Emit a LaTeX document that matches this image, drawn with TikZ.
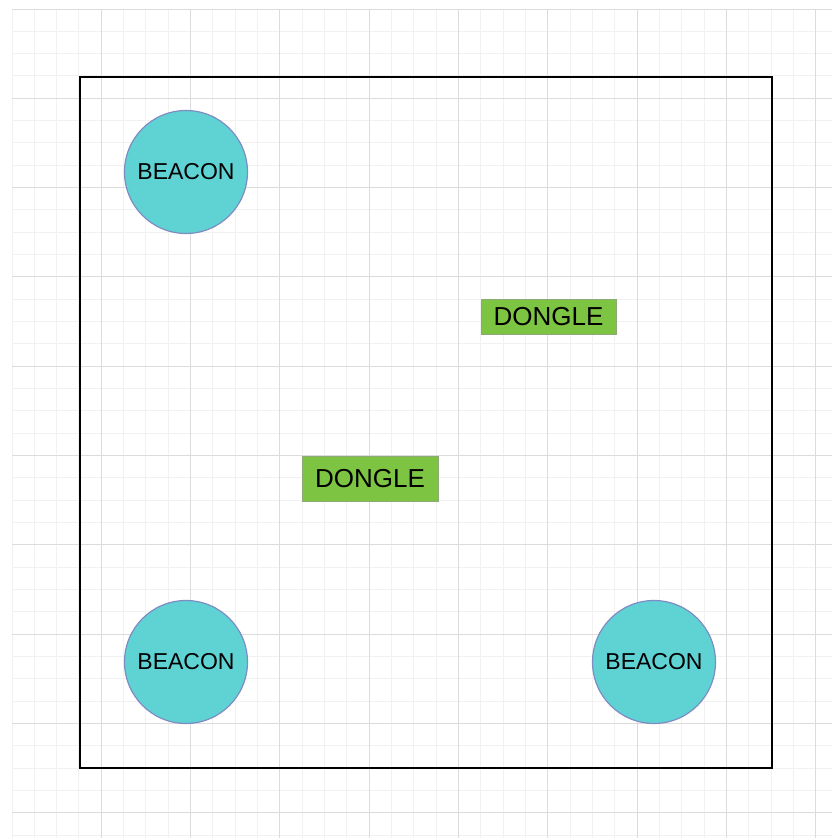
\documentclass[tikz,border=0pt]{standalone}
\usepackage{fontspec}
\setmainfont{Liberation Sans}
\definecolor{beaconfill}{HTML}{5FD2D4}
\definecolor{beaconline}{HTML}{7F8CC4}
\definecolor{donglefill}{HTML}{7DC443}
\definecolor{dongleline}{HTML}{8FA878}
\definecolor{gridfine}{HTML}{F1F1F1}
\definecolor{gridmajor}{HTML}{DCDCDC}
\begin{document}
\begin{tikzpicture}[x=1pt,y=-1pt,
  beacon/.style={circle,draw=beaconline,fill=beaconfill,line width=1.2pt,minimum size=123pt,inner sep=0pt,font=\fontsize{23}{26}\selectfont},
  dongle/.style={rectangle,draw=dongleline,fill=donglefill,line width=0.8pt,inner sep=0pt,font=\fontsize{26}{30}\selectfont}]
\useasboundingbox (0,0) rectangle (832,838);
% fine grid
\foreach \i in {0,...,37} {
  \draw[gridfine,line width=1pt] ({12+22.33*\i},9) -- ({12+22.33*\i},838);
}
\foreach \i in {0,...,37} {
  \draw[gridfine,line width=1pt] (12,{9+22.33*\i}) -- (832,{9+22.33*\i});
}
% major grid
\foreach \i in {0,...,9} {
  \draw[gridmajor,line width=1pt] ({101.3+89.33*\i},9) -- ({101.3+89.33*\i},838);
}
\foreach \i in {0,...,9} {
  \draw[gridmajor,line width=1pt] (12,{9+89.33*\i}) -- (832,{9+89.33*\i});
}
% room
\node[draw=black,line width=2pt,minimum width=692pt,minimum height=691pt,inner sep=0pt] (room) at (426,422.5) {};
% beacons
\node[beacon] (b1) at (186,172) {BEACON};
\node[beacon] (b2) at (186,662) {BEACON};
\node[beacon] (b3) at (654,662) {BEACON};
% dongles
\node[dongle,minimum width=135pt,minimum height=35pt] (d1) at (548.5,316.5) {DONGLE};
\node[dongle,minimum width=136pt,minimum height=45pt] (d2) at (370,478.5) {DONGLE};
\end{tikzpicture}
\end{document}
